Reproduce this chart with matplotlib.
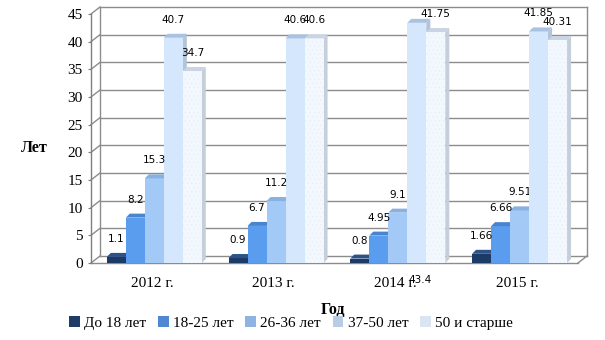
import numpy as np
import matplotlib
matplotlib.use('Agg')
import matplotlib.pyplot as plt
from matplotlib.patches import Polygon, Rectangle

years = ['2012 г.', '2013 г.', '2014 г.', '2015 г.']
groups = ['До 18 лет', '18-25 лет', '26-36 лет', '37-50 лет', '50 и старше']

under_18 = [1.1, 0.9, 0.8, 1.66]
age_18_25 = [8.2, 6.7, 4.95, 6.66]
age_26_36 = [15.3, 11.2, 9.1, 9.51]
age_37_50 = [40.7, 40.6, 43.4, 41.85]
age_50_plus = [34.7, 40.6, 41.75, 40.31]
series = [under_18, age_18_25, age_26_36, age_37_50, age_50_plus]

front_colors = ['#1B3A66', '#5A9DEE', '#A3CAF6', '#D4E7FC', '#F3F8FE']
top_colors = ['#2C5288', '#4A84CF', '#88B0E2', '#A9C2E2', '#C9D4E4']
side_colors = ['#122A4C', '#3F74BB', '#7EA4D4', '#B3C3D8', '#C5CFDC']
legend_colors = ['#1F3C68', '#4F87D3', '#8EB3E3', '#B8CCE4', '#DBE5F1']

plt.rcParams['hatch.linewidth'] = 0.3

W, H = 605, 340
fig = plt.figure(figsize=(W / 100, H / 100), dpi=100)
ax = fig.add_axes([91 / W, 1 - 263 / H, (578 - 91) / W, (263 - 14) / H])
ax.set_xlim(-0.5, 3.5)
ax.set_ylim(0, 45)
for s in ax.spines.values():
    s.set_visible(False)

# wall depth in data units
dx, dy = 9 / 121.75, 7 / 5.533
grid_c = '#8C8C8C'
for v in range(0, 50, 5):
    ax.plot([-0.5 + dx, 3.5 + dx], [v + dy, v + dy], color=grid_c, lw=1, clip_on=False, zorder=1)
    ax.plot([-0.5, -0.5 + dx], [v, v + dy], color=grid_c, lw=1, clip_on=False, zorder=1)
ax.plot([-0.5 + dx, -0.5 + dx], [dy, 45 + dy], color=grid_c, lw=1, clip_on=False, zorder=1)
ax.plot([3.5 + dx, 3.5 + dx], [dy, 45 + dy], color=grid_c, lw=1, clip_on=False, zorder=1)
ax.plot([-0.5, 3.5], [0, 0], color=grid_c, lw=1, clip_on=False, zorder=1)
ax.plot([3.5, 3.5 + dx], [0, dy], color=grid_c, lw=1, clip_on=False, zorder=1)
ax.plot([-0.5, -0.5], [0, 45], color='#7F7F7F', lw=1, clip_on=False, zorder=1)

# bars
x = np.arange(len(years))
bw = 19 / 121.75
bdx, bdy = 4 / 121.75, 4 / 5.533
z = 2
for i in range(len(years)):
    for j, vals in enumerate(series):
        v = vals[i]
        xc = x[i] + 0.02 + (j - 2) * bw
        x0, x1 = xc - bw / 2, xc + bw / 2
        if j == 4:
            ax.bar(xc, v, width=bw, color=front_colors[j], edgecolor='#E6EDF6', lw=0,
                   hatch='....', zorder=z)
        else:
            ax.bar(xc, v, width=bw, color=front_colors[j], lw=0, zorder=z)
        ax.add_patch(Polygon([(x0, v), (x0 + bdx, v + bdy), (x1 + bdx, v + bdy), (x1, v)],
                             closed=True, fc=top_colors[j], ec='none', zorder=z, clip_on=False))
        ax.add_patch(Polygon([(x1, 0), (x1, v), (x1 + bdx, v + bdy), (x1 + bdx, bdy)],
                             closed=True, fc=side_colors[j], ec='none', zorder=z - 0.5, clip_on=False))
        if v > 43:
            # this label sits under the axis in the original
            ax.annotate('{}'.format(v), (xc, 0), xytext=(2, -12.5), textcoords='offset points',
                        ha='center', va='center', fontsize=7.5, family='DejaVu Sans',
                        annotation_clip=False, zorder=20)
        else:
            ax.annotate('{}'.format(v), (xc, v), xytext=(0, 13), textcoords='offset points',
                        ha='center', va='center', fontsize=7.5, family='DejaVu Sans',
                        annotation_clip=False, zorder=20)
        z += 1

ax.set_yticks(range(0, 50, 5))
ax.set_yticklabels([str(t) for t in range(0, 50, 5)], family='Liberation Serif', fontsize=11)
ax.tick_params(axis='y', length=2, pad=4, color='#7F7F7F')
ax.set_xticks(x)
ax.set_xticklabels(years, family='Liberation Serif', fontsize=11)
ax.tick_params(axis='x', length=0, pad=10)

fig.text(34 / W, 1 - 148 / H, 'Лет', family='Liberation Serif', fontsize=11.5,
         fontweight='bold', ha='center', va='center')
fig.text(333 / W, 1 - 310 / H, 'Год', family='Liberation Serif', fontsize=11.5,
         fontweight='bold', ha='center', va='center')

handles = [Rectangle((0, 0), 1, 1, fc=c, ec='none') for c in legend_colors]
fig.legend(handles, groups, loc='center', bbox_to_anchor=(291 / W, 1 - 323 / H), ncol=5,
           frameon=False, prop={'family': 'Liberation Serif', 'size': 11},
           handlelength=0.7, handleheight=0.7, handletextpad=0.3, columnspacing=0.75,
           borderaxespad=0, borderpad=0)

fig.savefig('out.png', dpi=100)
